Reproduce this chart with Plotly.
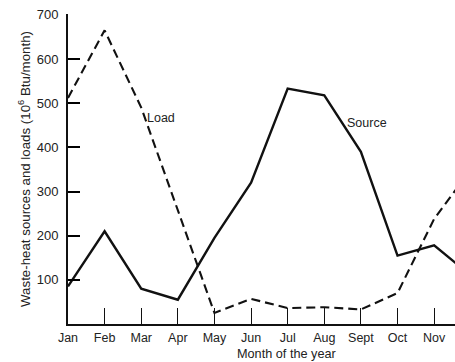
import plotly.graph_objects as go

# Monthly waste-heat figures, 10^6 Btu/month
months = ["Jan", "Feb", "Mar", "Apr", "May", "Jun", "Jul", "Aug", "Sept", "Oct", "Nov", "Dec"]
source = [85, 210, 80, 55, 195, 320, 533, 518, 390, 155, 178, 110]
load = [512, 665, 490, 260, 25, 57, 36, 38, 33, 70, 238, 350]
y_ticks = [100, 200, 300, 400, 500, 600, 700]

FONT = "Liberation Sans, Arial, sans-serif"
x_idx = list(range(len(months)))

fig = go.Figure()
fig.add_trace(go.Scatter(x=x_idx, y=source, mode="lines",
                         line=dict(color="#111111", width=2.4), showlegend=False))
fig.add_trace(go.Scatter(x=x_idx, y=load, mode="lines",
                         line=dict(color="#111111", width=2.1, dash="9px,5px"), showlegend=False))

fig.add_annotation(x=2.55, y=466, text="Load", showarrow=False,
                   font=dict(family=FONT, size=12.5, color="#222"), xanchor="center")
fig.add_annotation(x=8.17, y=455, text="Source", showarrow=False,
                   font=dict(family=FONT, size=12.5, color="#222"), xanchor="center")
fig.add_annotation(x=0.566, y=-0.121, xref="paper", yref="paper", yanchor="bottom",
                   text="Month of the year", showarrow=False, borderpad=0,
                   font=dict(family=FONT, size=12.7, color="#222"))

fig.update_layout(
    width=455, height=362,
    margin=dict(l=68, r=0, t=14, b=38),
    paper_bgcolor="white", plot_bgcolor="white",
    font=dict(family=FONT, size=12, color="#222"),
    xaxis=dict(range=[0, 10.57], tickvals=x_idx[:11], ticktext=months[:11],
               ticks="inside", ticklen=16, tickwidth=1.4, tickcolor="#111",
               showline=True, linecolor="#111", linewidth=2,
               showgrid=False, zeroline=False, ticklabelstandoff=1,
               tickfont=dict(family=FONT, size=12.5, color="#222")),
    # a hair of headroom above 700 so its tick is kept
    yaxis=dict(range=[0, 702], tickvals=y_ticks, ticks="inside", ticklen=12,
               tickwidth=2.2, tickcolor="#000", showline=True, linecolor="#111",
               linewidth=2, showgrid=False, zeroline=False, ticklabelstandoff=5,
               tickfont=dict(family=FONT, size=13, color="#222"),
               title=dict(text="Waste-heat sources and loads (10<sup>6</sup> Btu/month)",
                          font=dict(family=FONT, size=13.3, color="#222"), standoff=3)),
)

fig.write_html("out.html")
